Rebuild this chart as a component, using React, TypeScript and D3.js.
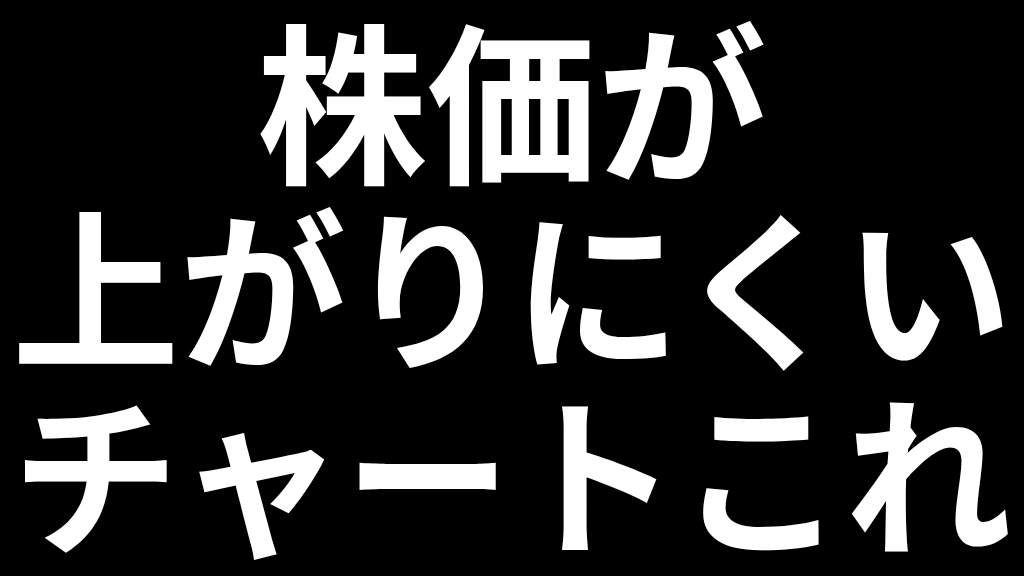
import * as d3 from "d3";
import React from "react";

const lines = ["株価が", "上がりにくい", "チャートこれ"];
const lineWidths = [510, 1000, 1000];

const W = 1024;
const H = 576;

export default function App() {
  const y = d3
    .scaleBand<string>()
    .domain(lines)
    .range([4, 558])
    .paddingInner(0.02);

  return (
    <svg
      width={W}
      height={H}
      style={{ position: "absolute", left: 0, top: 0, background: "#000" }}
    >
      <rect width={W} height={H} fill="#000" />
      {lines.map((t, i) => (
        <text
          key={t}
          x={W / 2}
          y={(y(t) ?? 0) + y.bandwidth() / 2}
          textAnchor="middle"
          dominantBaseline="central"
          fill="#fff"
          fontFamily="'Noto Sans CJK JP', sans-serif"
          fontWeight={700}
          fontSize={172}
          textLength={lineWidths[i]}
          lengthAdjust="spacingAndGlyphs"
        >
          {t}
        </text>
      ))}
    </svg>
  );
}
